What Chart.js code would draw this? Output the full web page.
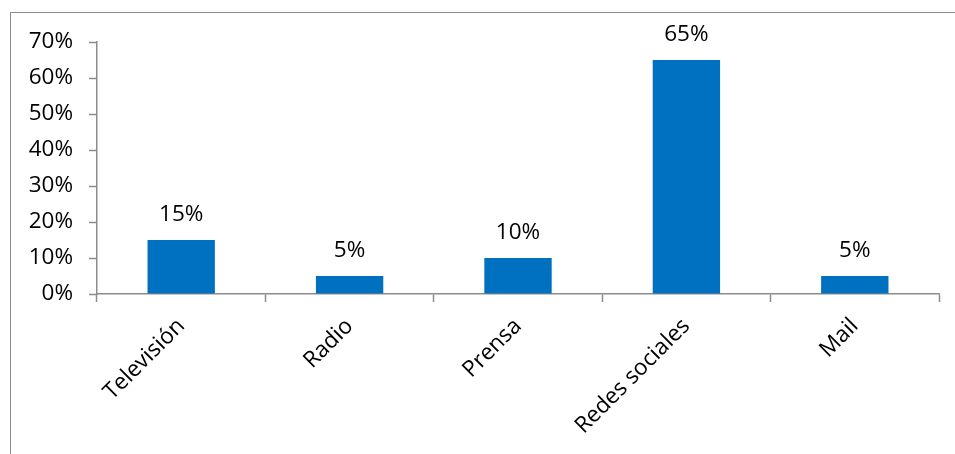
<!DOCTYPE html>
<html>
<head>
<meta charset="utf-8">
<script src="https://cdn.jsdelivr.net/npm/chart.js@4/dist/chart.umd.min.js"></script>
<style>
  html, body { margin: 0; padding: 0; background: #fff; }
  #wrap { position: relative; width: 955px; height: 454px; overflow: hidden; }
  #frame { position: absolute; left: 10px; top: 12px; width: 1000px; height: 500px;
           border-left: 1.5px solid #8c8c8c; border-top: 1.5px solid #8c8c8c; }
  #medios_chart { position: absolute; left: 0; top: 0; }
</style>
</head>
<body>
<div id="wrap">
  <div id="frame"></div>
  <canvas id="medios_chart" width="955" height="454"></canvas>
</div>
<script>
var medios = ['Televisión', 'Radio', 'Prensa', 'Redes sociales', 'Mail'];
var porcentajes = [15, 5, 10, 65, 5];
var y_max = 70;
var y_step = 10;

var fuente = "'Open Sans', sans-serif";
var tam_fuente = 22.5;

// etiqueta con el porcentaje encima de cada barra
var etiquetas_barras = {
    id: 'etiquetas_barras',
    afterDatasetsDraw: function (chart) {
        var ctx = chart.ctx;
        var meta = chart.getDatasetMeta(0);
        ctx.save();
        ctx.font = tam_fuente + 'px ' + fuente;
        ctx.fillStyle = '#000';
        ctx.textAlign = 'center';
        ctx.textBaseline = 'middle';
        meta.data.forEach(function (bar, i) {
            ctx.fillText(porcentajes[i] + '%', bar.x, bar.y - 25);
        });
        ctx.restore();
    }
};

var medios_chart = new Chart(document.getElementById('medios_chart'), {
    type: 'bar',
    data: {
        labels: medios,
        datasets: [{
            data: porcentajes,
            backgroundColor: '#0070C0',
            borderWidth: 0,
            categoryPercentage: 1.0,
            barPercentage: 0.4,
        }]
    },
    options: {
        responsive: false,
        animation: false,
        layout: {
            padding: { left: 0, top: 42, right: 16, bottom: 0 }
        },
        plugins: {
            legend: { display: false },
            tooltip: { enabled: false },
        },
        scales: {
            x: {
                grid: {
                    offset: true,
                    drawOnChartArea: false,
                    drawTicks: true,
                    tickLength: 8,
                    tickColor: '#8c8c8c',
                    tickWidth: 1.5,
                },
                border: { color: '#8c8c8c', width: 1.5 },
                ticks: {
                    color: '#000',
                    font: { family: fuente, size: tam_fuente },
                    minRotation: 45,
                    maxRotation: 45,
                    padding: 11,
                },
                afterFit: function (scale) { scale.height = 160; }
            },
            y: {
                min: 0,
                max: y_max,
                grid: {
                    drawOnChartArea: false,
                    drawTicks: true,
                    tickLength: 8,
                    tickColor: '#8c8c8c',
                    tickWidth: 1.5,
                },
                border: { color: '#8c8c8c', width: 1.5 },
                ticks: {
                    stepSize: y_step,
                    color: '#000',
                    padding: 16,
                    font: { family: fuente, size: tam_fuente },
                    callback: function (v) { return v + '%'; }
                },
                afterFit: function (scale) { scale.width = 97; }
            }
        }
    },
    plugins: [etiquetas_barras]
});
</script>
</body>
</html>
